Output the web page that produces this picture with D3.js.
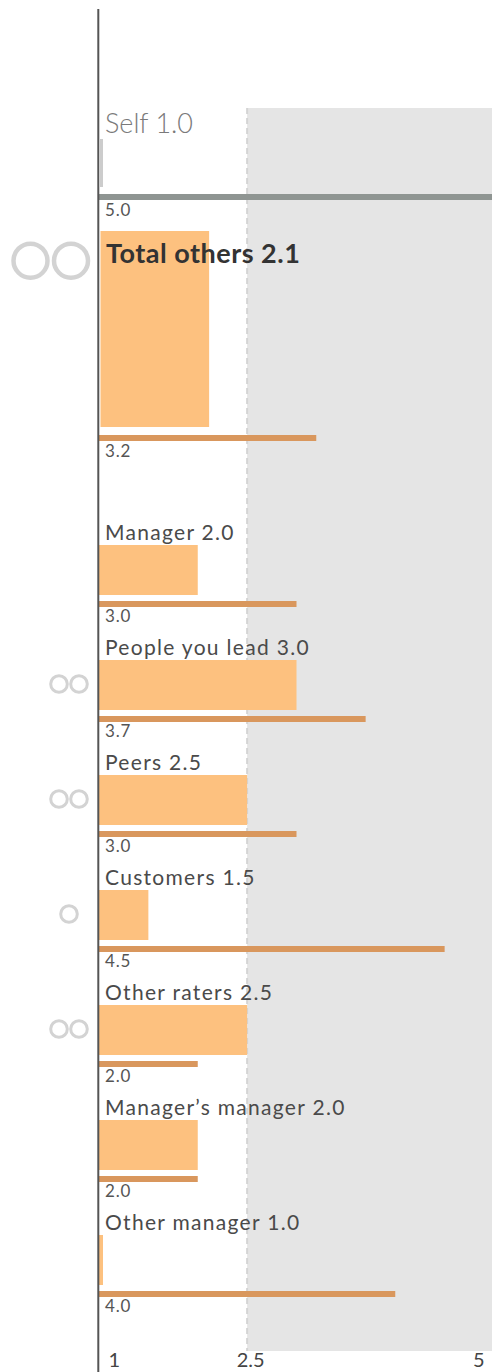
<!DOCTYPE html>
<html>
<head>
<meta charset="utf-8">
<script src="https://cdn.jsdelivr.net/npm/d3@7"></script>
<style>
  html, body { margin: 0; padding: 0; background: #fff; }
  svg { display: block; font-family: Lato, "Open Sans", sans-serif; }
</style>
</head>
<body>
<svg id="chart" width="492" height="1372"></svg>
<script>
// Summary rows: self rating and the combined rating of everyone else
const groups = ["Self", "Total others"];
const groupScores = [1.0, 2.1];
const groupComparisons = [5.0, 3.2];
const groupIcons = [0, 2];

// Individual rater groups
const raters = ["Manager", "People you lead", "Peers", "Customers", "Other raters", "Manager’s manager", "Other manager"];
const raterScores = [2.0, 3.0, 2.5, 1.5, 2.5, 2.0, 1.0];
const raterComparisons = [3.0, 3.7, 3.0, 4.5, 2.0, 2.0, 4.0];
const raterIcons = [0, 2, 2, 1, 2, 0, 0];

// Scale axis
const tickValues = [1, 2.5, 5];
const threshold = 2.5;

const svg = d3.select("#chart");
const W = 492, H = 1372;

const x = d3.scaleLinear().domain([1, 5]).range([99, 494]);
const rowTop = d3.scaleLinear().domain([0, 1]).range([545, 660]);
const fmt = d3.format(".1f");

const barColor = "#fdc17f";
const lineColor = "#d9975d";

// Shaded zone above the threshold
svg.append("rect")
  .attr("x", x(threshold))
  .attr("y", 108)
  .attr("width", W - x(threshold))
  .attr("height", 1351 - 108)
  .attr("fill", "#e5e5e5");

svg.append("line")
  .attr("x1", x(threshold)).attr("x2", x(threshold))
  .attr("y1", 108).attr("y2", 1351)
  .attr("stroke", "#d4d4d4")
  .attr("stroke-width", 2)
  .attr("stroke-dasharray", "6,4");

// Rater-count icons
function drawIcons(g, n, cx, cy, r, sw, gap) {
  const centers = n === 1 ? [cx] : (n === 2 ? [cx - gap / 2, cx + gap / 2] : []);
  centers.forEach(c => {
    g.append("circle")
      .attr("cx", c).attr("cy", cy).attr("r", r)
      .attr("fill", "none")
      .attr("stroke", "#d3d3d3")
      .attr("stroke-width", sw);
  });
}

// ---- Self row ----
const gSelf = svg.append("g");
gSelf.append("rect")
  .attr("x", x(1) + 1)
  .attr("y", 139)
  .attr("width", Math.max(x(groupScores[0]) - x(1), 3))
  .attr("height", 48)
  .attr("fill", "#cccccc");
gSelf.append("rect")
  .attr("x", x(1) - 1)
  .attr("y", 194)
  .attr("width", x(groupComparisons[0]) - x(1) + 1)
  .attr("height", 6)
  .attr("fill", "#8f9592");
gSelf.append("text")
  .attr("x", 105).attr("y", 133)
  .attr("font-size", 27).attr("font-weight", 300)
  .attr("fill", "#7a7a7a")
  .text(groups[0] + " " + fmt(groupScores[0]));
gSelf.append("text")
  .attr("x", 105).attr("y", 216)
  .attr("font-size", 17)
  .attr("letter-spacing", 0.8)
  .attr("fill", "#555")
  .text(fmt(groupComparisons[0]));

// ---- Total others row ----
const gTot = svg.append("g");
drawIcons(gTot, groupIcons[1], 50.75, 260.7, 17, 4.5, 40.5);
gTot.append("rect")
  .attr("x", x(1) + 1.5)
  .attr("y", 231)
  .attr("width", Math.max(x(groupScores[1]) - x(1), 3))
  .attr("height", 196)
  .attr("fill", barColor);
gTot.append("rect")
  .attr("x", x(1) - 1)
  .attr("y", 435)
  .attr("width", x(groupComparisons[1]) - x(1) + 1)
  .attr("height", 6)
  .attr("fill", lineColor);
gTot.append("text")
  .attr("x", 106).attr("y", 263)
  .attr("font-size", 27).attr("font-weight", 700)
  .attr("letter-spacing", 0.5)
  .attr("fill", "#333")
  .text(groups[1] + " " + fmt(groupScores[1]));
gTot.append("text")
  .attr("x", 105).attr("y", 457)
  .attr("font-size", 17)
  .attr("letter-spacing", 0.8)
  .attr("fill", "#555")
  .text(fmt(groupComparisons[1]));

// ---- Individual rater rows ----
raters.forEach((name, i) => {
  const top = rowTop(i);
  const g = svg.append("g");
  drawIcons(g, raterIcons[i], 69, top + 24, 8.3, 3, 20);
  g.append("rect")
    .attr("x", x(1) - 1)
    .attr("y", top)
    .attr("width", Math.max(x(raterScores[i]) - x(1) + 1, 5))
    .attr("height", 50)
    .attr("fill", barColor);
  g.append("rect")
    .attr("x", x(1) - 1)
    .attr("y", top + 56)
    .attr("width", x(raterComparisons[i]) - x(1) + 1)
    .attr("height", 6)
    .attr("fill", lineColor);
  g.append("text")
    .attr("x", 105).attr("y", top - 5)
    .attr("font-size", 21).attr("font-weight", 400)
    .attr("letter-spacing", 1.3)
    .attr("fill", "#4a4a4a")
    .text(name + " " + fmt(raterScores[i]));
  g.append("text")
    .attr("x", 105).attr("y", top + 77)
    .attr("font-size", 17)
    .attr("letter-spacing", 0.8)
    .attr("fill", "#555")
    .text(fmt(raterComparisons[i]));
});

// Vertical baseline
svg.append("line")
  .attr("x1", 98.3).attr("x2", 98.3)
  .attr("y1", 9).attr("y2", H)
  .attr("stroke", "#555")
  .attr("stroke-width", 2);

// Bottom scale labels
const axis = d3.axisBottom(x)
  .tickValues(tickValues)
  .tickSize(0)
  .tickPadding(0)
  .tickFormat(d => d);
const gAxis = svg.append("g")
  .attr("transform", "translate(0,1352)")
  .call(axis);
gAxis.select(".domain").remove();
gAxis.selectAll("text")
  .attr("font-family", "Lato, 'Open Sans', sans-serif")
  .attr("font-size", 20)
  .attr("fill", "#444")
  .attr("y", 0)
  .attr("dy", 15)
  .attr("text-anchor", (d, i) => i === 0 ? "start" : (i === tickValues.length - 1 ? "end" : "middle"))
  .attr("dx", (d, i) => i === 0 ? 9 : (i === tickValues.length - 1 ? -10 : 3));
</script>
</body>
</html>
